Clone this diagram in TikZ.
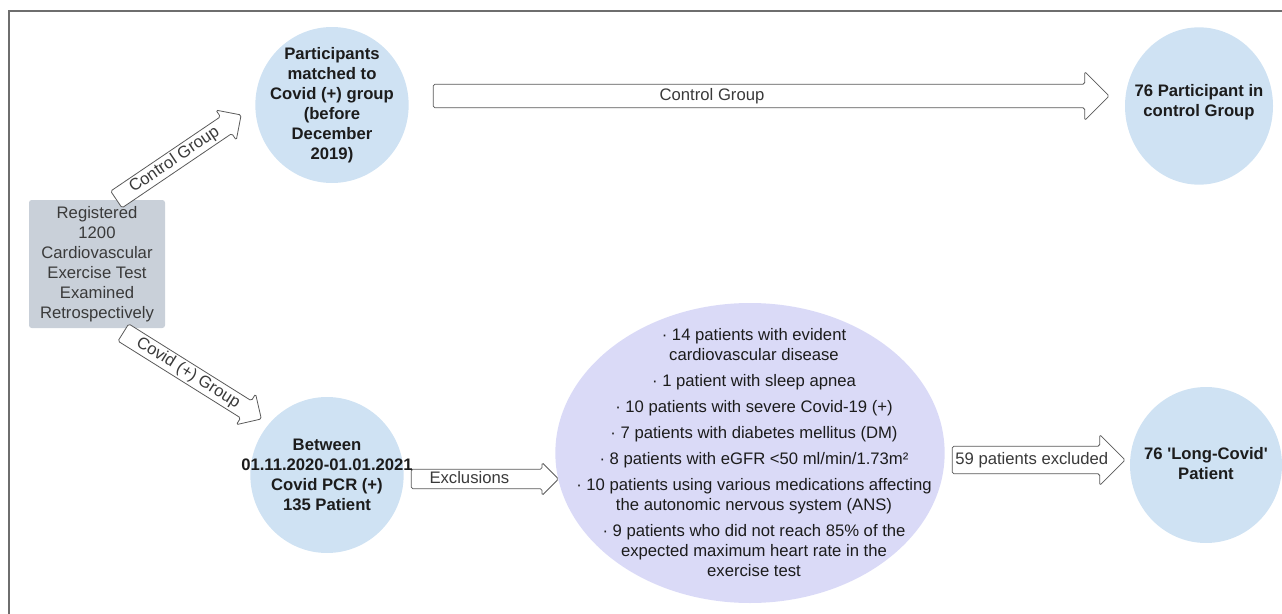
\documentclass[tikz,border=0pt]{standalone}
\usepackage{fontspec}
\setmainfont{Liberation Sans}
\usetikzlibrary{shapes.geometric,shapes.arrows,calc}
\definecolor{circblue}{HTML}{CFE2F3}
\definecolor{exclviolet}{HTML}{DADAF7}
\definecolor{reggray}{HTML}{C9D0D9}
\definecolor{ink}{HTML}{1C1C1C}
\definecolor{arrowline}{HTML}{5A5A5A}
\definecolor{labelink}{HTML}{3A3A3A}
\definecolor{framegray}{HTML}{6E6E6E}

\newcommand{\blockarrow}[4][]{%
  \path let \p1=($(#3)-(#2)$), \n1={atan2(\y1,\x1)}, \n2={veclen(\x1,\y1)} in
    node[flow arrow, #1, minimum height=\n2, rotate=\n1, anchor=tail] at (#2) {#4};}

\begin{document}
\begin{tikzpicture}[
    x=0.75pt, y=-0.75pt,
    every node/.style={font=\fontsize{12.5}{15}\selectfont, align=center},
    reg box/.style={rectangle, rounded corners=2pt, fill=reggray, text=labelink,
      minimum width=102pt, minimum height=96pt, inner sep=0pt},
    blue circle/.style={ellipse, fill=circblue, minimum width=115pt, minimum height=117pt, inner sep=0pt},
    circle text/.style={text=ink, font=\fontsize{12.5}{15}\selectfont\bfseries},
    excl ellipse/.style={ellipse, fill=exclviolet, minimum width=292pt, minimum height=225pt, inner sep=0pt},
    excl text/.style={text=ink},
    flow arrow/.style={single arrow, draw=arrowline, fill=white, line width=0.6pt,
      single arrow head indent=0pt, single arrow tip angle=90, rounded corners=1.2pt,
      text=labelink, text height=9pt, text depth=2.6pt, inner xsep=2pt}
  ]
  \useasboundingbox (0,0) rectangle (1282,614);
  \draw[framegray, line width=1.5pt] (1282,11) -- (9,11) -- (9,614);

  \node[reg box] (reg) at (97,264) {Registered\\1200\\Cardiovascular\\Exercise Test\\Examined\\Retrospectively};
  \node[blue circle, label={[circle text]center:{Participants\\matched to\\Covid (+) group\\(before\\December\\2019)}}] (match) at (332,105) {};
  \node[blue circle, minimum width=111pt, minimum height=118pt,
    label={[circle text, yshift=3pt]center:{76 Participant in\\control Group}}] (ctrl) at (1199,106) {};
  \node[blue circle, label={[circle text]center:{Between\\01.11.2020-01.01.2021\\Covid PCR (+)\\135 Patient}}] (covid) at (327,475) {};
  \node[excl ellipse, label={[excl text, xshift=3pt]center:{%
    · 14 patients with evident\\cardiovascular disease\\[4.5pt]
    · 1 patient with sleep apnea\\[4.5pt]
    · 10 patients with severe Covid-19 (+)\\[4.5pt]
    · 7 patients with diabetes mellitus (DM)\\[4.5pt]
    · 8 patients with eGFR <50 ml/min/1.73m²\\[4.5pt]
    · 10 patients using various medications affecting\\the autonomic nervous system (ANS)\\[4.5pt]
    · 9 patients who did not reach 85\% of the\\expected maximum heart rate in the\\exercise test}}] (excl) at (750,453) {};
  \node[blue circle, minimum width=114pt,
    label={[circle text, yshift=1pt]center:{76 \textquotesingle Long-Covid\textquotesingle\\Patient}}] (long) at (1206,465) {};

  \coordinate (cgA) at ($(match.east)+(24,-9)$);
  \coordinate (cgB) at ($(cgA -| ctrl.west)+(-16,0)$);
  \coordinate (dgA) at ($(reg.north)+(19,0)$);
  \coordinate (dgB) at ($(match.west)+(-14,10)$);
  \coordinate (dvA) at ($(reg.south)+(26,4)$);
  \coordinate (dvB) at ($(covid.north)+(-66,22)$);
  \coordinate (exA) at ($(covid.east)+(7,4)$);
  \coordinate (exB) at ($(exA -| excl.west)+(3,0)$);
  \coordinate (ptA) at ($(excl.east)+(7,7)$);
  \coordinate (ptB) at ($(ptA -| long.west)+(-7,0)$);

  \blockarrow[inner ysep=2.75pt, single arrow head extend=9.5pt]{cgA}{cgB}{Control Group\hspace*{80pt}}
  \blockarrow[inner ysep=1.5pt, single arrow head extend=6pt]{dgA}{dgB}{Control Group}
  \blockarrow[inner ysep=1.5pt, single arrow head extend=6pt]{dvA}{dvB}{Covid (+) Group}
  \blockarrow[inner ysep=1.25pt, single arrow head extend=5pt]{exA}{exB}{Exclusions\hspace*{16pt}}
  \blockarrow[inner ysep=4.25pt, single arrow head extend=8.75pt]{ptA}{ptB}{59 patients excluded}
\end{tikzpicture}
\end{document}
